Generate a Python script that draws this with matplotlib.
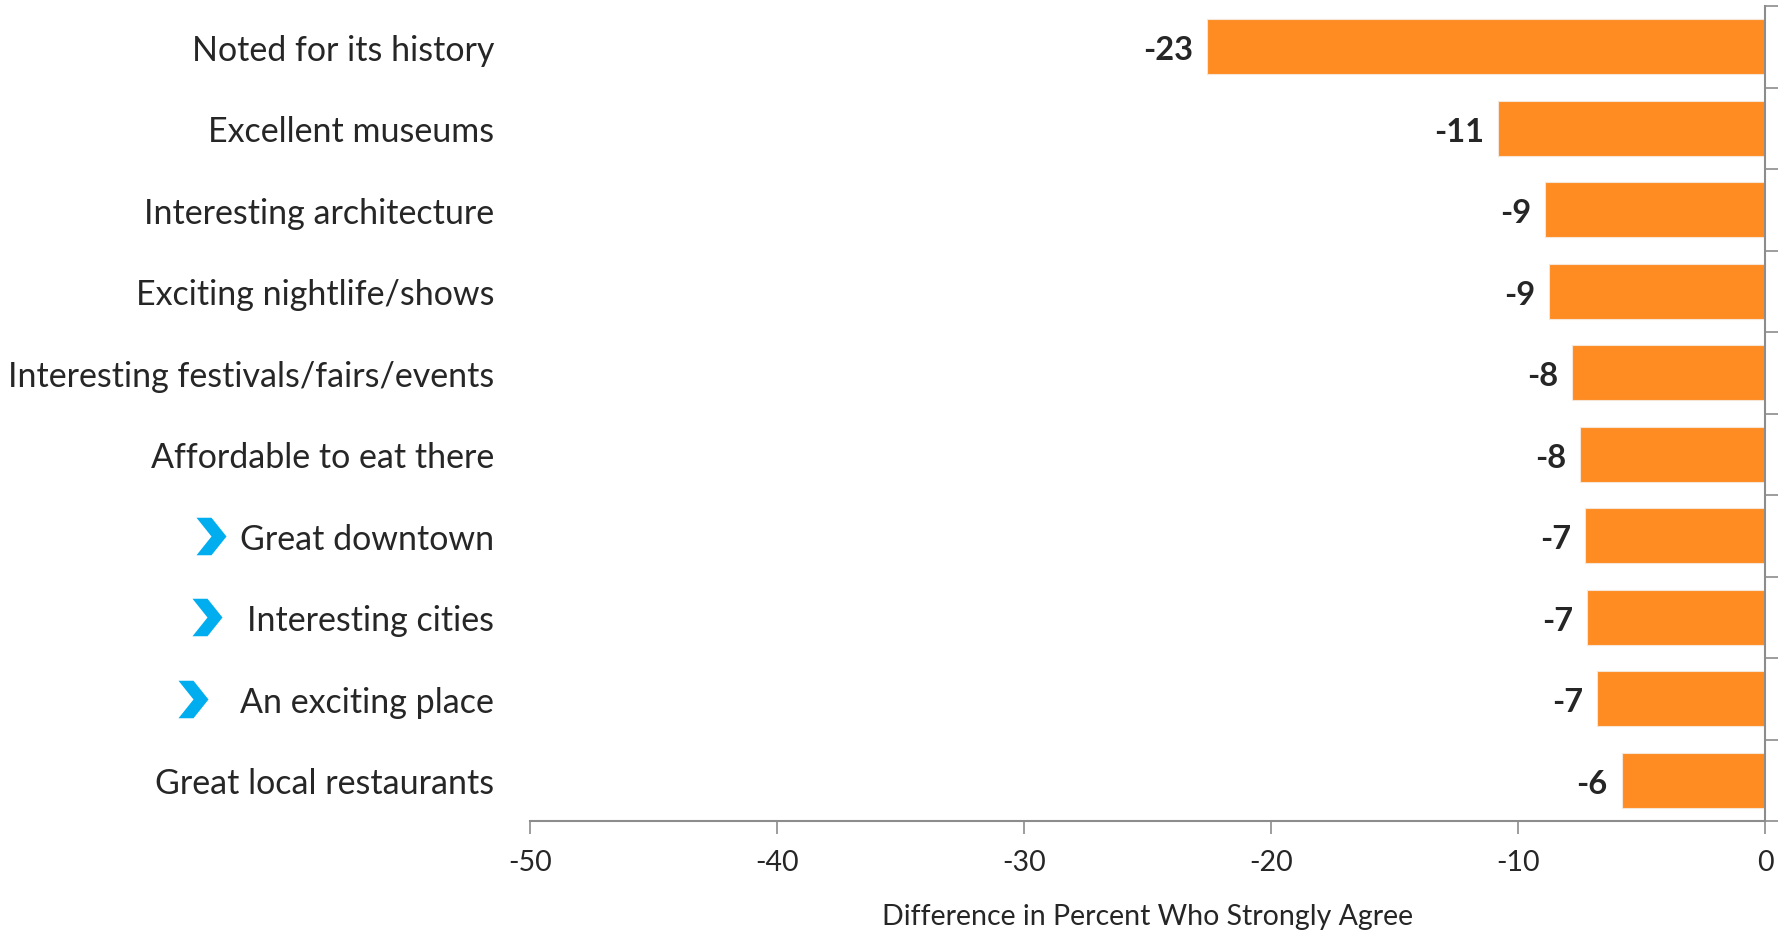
import matplotlib
matplotlib.use("Agg")
import matplotlib.pyplot as plt
from matplotlib.ticker import FixedLocator

# Data (top to bottom)
categories = [
    "Noted for its history",
    "Excellent museums",
    "Interesting architecture",
    "Exciting nightlife/shows",
    "Interesting festivals/fairs/events",
    "Affordable to eat there",
    "Great downtown",
    "Interesting cities",
    "An exciting place",
    "Great local restaurants",
]
values = [-22.6, -10.8, -8.9, -8.75, -7.8, -7.5, -7.3, -7.2, -6.8, -5.8]
value_labels = ["-23", "-11", "-9", "-9", "-8", "-8", "-7", "-7", "-7", "-6"]
flagged = ["Great downtown", "Interesting cities", "An exciting place"]
x_ticks = [-50, -40, -30, -20, -10, 0]

plt.rcParams['font.family'] = ['Lato', 'DejaVu Sans']
text_color = '#262626'
axis_color = '#8c8c8c'
bar_color = '#FF8C23'

fig = plt.figure(figsize=(17.81, 9.37), dpi=100)
ax = fig.add_axes([0.2977, 0.1227, 0.6933, 0.8698])

y = list(range(len(categories)))
ax.barh(y, values, height=0.67, color=bar_color, edgecolor='#f5e6d8', linewidth=0.8, zorder=2)

ax.set_xlim(-50, 0)
ax.set_ylim(len(categories) - 0.5, -0.5)

# value labels left of each bar
for yi, v, lab in zip(y, values, value_labels):
    ax.annotate(lab, (v, yi), xytext=(-10, -2), textcoords='offset points',
                ha='right', va='center', fontsize=23.5, fontweight='bold', color=text_color)

# category labels
ax.set_yticks(y)
ax.set_yticklabels(categories, fontsize=24.5, color=text_color)
ax.tick_params(axis='y', which='major', length=0, pad=26)

# boundary ticks on the right spine
ax.yaxis.set_minor_locator(FixedLocator([i - 0.5 for i in range(len(categories) + 1)]))
ax.tick_params(axis='y', which='minor', left=False, right=True, length=9, width=1.2, color=axis_color)

ax.set_xticks(x_ticks)
ax.set_xticklabels([str(t) for t in x_ticks], fontsize=20.5, color=text_color)
ax.tick_params(axis='x', length=9, width=1.2, color=axis_color, pad=11)
ax.set_xlabel("Difference in Percent Who Strongly Agree", fontsize=20.5, color=text_color, labelpad=20)

for side in ['top', 'left']:
    ax.spines[side].set_visible(False)
for side in ['bottom', 'right']:
    ax.spines[side].set_color(axis_color)
    ax.spines[side].set_linewidth(1.5)

# blue chevrons before the flagged labels
chevron = [(-0.4, -0.5), (0.0, -0.5), (0.4, 0.0), (0.0, 0.5), (-0.4, 0.5), (0.0, 0.0), (-0.4, -0.5)]
chevron_x = {"Great downtown": 211, "Interesting cities": 207, "An exciting place": 193}
for name, px in chevron_x.items():
    yi = categories.index(name)
    xa = (px - 530) / (1765 - 530)
    ax.plot([xa], [yi], marker=chevron, markersize=27, color='#00AEEF', markeredgewidth=0,
            transform=ax.get_yaxis_transform(), clip_on=False)

fig.savefig("out.png", dpi=100)
